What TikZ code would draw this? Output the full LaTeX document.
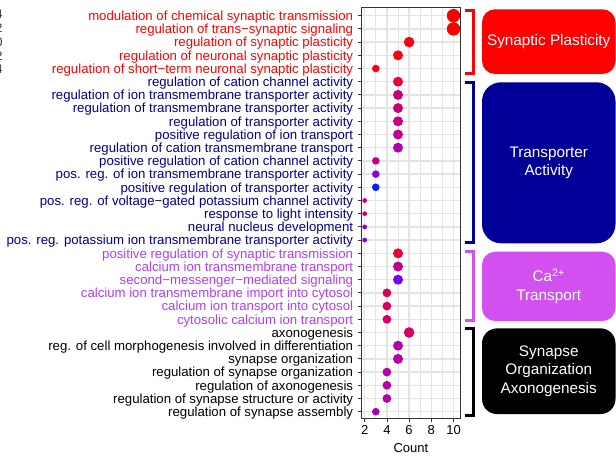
\documentclass[tikz,border=0pt]{standalone}
\usepackage{fontspec}
\setmainfont{Liberation Sans}
\usepackage{tikz}
\usepackage{xcolor}

\definecolor{synred}{RGB}{255,0,0}
\definecolor{trnblue}{RGB}{0,0,139}
\definecolor{capurple}{RGB}{178,60,240}
\definecolor{boxblue}{RGB}{0,0,153}
\definecolor{boxpurple}{RGB}{210,80,240}
\definecolor{axisgrey}{RGB}{51,51,51}
\definecolor{gridgrey}{RGB}{228,228,228}

\begin{document}
\begin{tikzpicture}[x=1pt,y=1pt,yscale=-1,xscale=1,
  lab/.style={anchor=east,inner sep=0pt,text height=9.6pt,text depth=0pt,font=\fontsize{13.2}{15}\selectfont},
  tcklab/.style={inner sep=0pt,text height=9.4pt,text depth=0pt,font=\fontsize{13}{15}\selectfont},
  lgd/.style={anchor=east,inner sep=0pt,text height=9pt,text depth=0pt,text=axisgrey,font=\fontsize{12.5}{14}\selectfont},
  gridmaj/.style={color=gridgrey,line width=1.3},
  gridmin/.style={color=gridgrey,line width=0.8},
  dot/.style={draw opacity=0},
  brk/.style={line width=3,line cap=butt,line join=miter},
  catbox/.style={rounded corners=13pt,text=white,align=center,minimum width=133.5pt,inner sep=0pt,font=\fontsize{15.3}{18.6}\selectfont}]
\useasboundingbox (0,0) rectangle (616,462);

% Text Node (cut legend)
\draw (2.7,14) node [lgd] (lg1) {4};
\draw (2.7,27.7) node [lgd] (lg2) {2};
\draw (2.7,41.7) node [lgd] (lg3) {0};
\draw (2.7,55.7) node [lgd] (lg4) {2};
\draw (2.7,69.3) node [lgd] (lg5) {4};

%Grid Lines
\draw [gridmin] (375.8,7.3) -- (375.8,418) (398,7.3) -- (398,418) (420.2,7.3) -- (420.2,418) (442.4,7.3) -- (442.4,418) ;
\draw [gridmaj] (364.7,7.3) -- (364.7,418) (386.9,7.3) -- (386.9,418) (409.1,7.3) -- (409.1,418) (431.3,7.3) -- (431.3,418) (453.5,7.3) -- (453.5,418) ;
\draw [gridmaj] (361.7,15.7) -- (460,15.7) (361.7,28.9) -- (460,28.9) (361.7,42.1) -- (460,42.1) (361.7,55.3) -- (460,55.3) (361.7,68.5) -- (460,68.5) (361.7,81.7) -- (460,81.7) (361.7,94.9) -- (460,94.9) (361.7,108.1) -- (460,108.1) ;
\draw [gridmaj] (361.7,121.3) -- (460,121.3) (361.7,134.5) -- (460,134.5) (361.7,147.7) -- (460,147.7) (361.7,160.9) -- (460,160.9) (361.7,174.1) -- (460,174.1) (361.7,187.3) -- (460,187.3) (361.7,200.5) -- (460,200.5) (361.7,213.7) -- (460,213.7) ;
\draw [gridmaj] (361.7,226.9) -- (460,226.9) (361.7,240.1) -- (460,240.1) (361.7,253.3) -- (460,253.3) (361.7,266.5) -- (460,266.5) (361.7,279.7) -- (460,279.7) (361.7,292.9) -- (460,292.9) (361.7,306.1) -- (460,306.1) (361.7,319.3) -- (460,319.3) ;
\draw [gridmaj] (361.7,332.5) -- (460,332.5) (361.7,345.7) -- (460,345.7) (361.7,358.9) -- (460,358.9) (361.7,372.1) -- (460,372.1) (361.7,385.3) -- (460,385.3) (361.7,398.5) -- (460,398.5) (361.7,411.7) -- (460,411.7) ;

%Shape: Circle (Synaptic Plasticity)
\draw [dot,fill={rgb, 255:red, 255; green, 0; blue, 0 }] (453.5,15.7) circle (6.7) ;
\draw [dot,fill={rgb, 255:red, 255; green, 0; blue, 0 }] (453.5,28.9) circle (6.7) ;
\draw [dot,fill={rgb, 255:red, 255; green, 0; blue, 16 }] (409.1,42.1) circle (5.3) ;
\draw [dot,fill={rgb, 255:red, 255; green, 0; blue, 16 }] (398,55.3) circle (5) ;
\draw [dot,fill={rgb, 255:red, 255; green, 0; blue, 16 }] (375.8,68.5) circle (3.8) ;
%Shape: Circle (Transporter Activity)
\draw [dot,fill={rgb, 255:red, 240; green, 0; blue, 58 }] (398,81.7) circle (5) ;
\draw [dot,fill={rgb, 255:red, 200; green, 0; blue, 122 }] (398,94.9) circle (5) ;
\draw [dot,fill={rgb, 255:red, 200; green, 0; blue, 122 }] (398,108.1) circle (5) ;
\draw [dot,fill={rgb, 255:red, 200; green, 0; blue, 128 }] (398,121.3) circle (5) ;
\draw [dot,fill={rgb, 255:red, 192; green, 0; blue, 144 }] (398,134.5) circle (5) ;
\draw [dot,fill={rgb, 255:red, 176; green, 0; blue, 176 }] (398,147.7) circle (5) ;
\draw [dot,fill={rgb, 255:red, 200; green, 0; blue, 133 }] (375.8,160.9) circle (3.8) ;
\draw [dot,fill={rgb, 255:red, 144; green, 0; blue, 224 }] (375.8,174.1) circle (3.8) ;
\draw [dot,fill={rgb, 255:red, 0; green, 32; blue, 255 }] (375.8,187.3) circle (3.8) ;
\draw [dot,fill={rgb, 255:red, 208; green, 0; blue, 120 }] (364.7,200.5) circle (2.4) ;
\draw [dot,fill={rgb, 255:red, 208; green, 0; blue, 120 }] (364.7,213.7) circle (2.4) ;
\draw [dot,fill={rgb, 255:red, 138; green, 0; blue, 232 }] (364.7,226.9) circle (2.4) ;
\draw [dot,fill={rgb, 255:red, 138; green, 0; blue, 232 }] (364.7,240.1) circle (2.4) ;
%Shape: Circle (Ca Transport)
\draw [dot,fill={rgb, 255:red, 240; green, 0; blue, 48 }] (398,253.3) circle (5) ;
\draw [dot,fill={rgb, 255:red, 192; green, 0; blue, 144 }] (398,266.5) circle (5) ;
\draw [dot,fill={rgb, 255:red, 120; green, 0; blue, 240 }] (398,279.7) circle (5) ;
\draw [dot,fill={rgb, 255:red, 218; green, 0; blue, 96 }] (386.9,292.9) circle (4.4) ;
\draw [dot,fill={rgb, 255:red, 218; green, 0; blue, 96 }] (386.9,306.1) circle (4.4) ;
\draw [dot,fill={rgb, 255:red, 210; green, 0; blue, 104 }] (386.9,319.3) circle (4.4) ;
%Shape: Circle (Synapse Organization)
\draw [dot,fill={rgb, 255:red, 216; green, 0; blue, 96 }] (409.1,332.5) circle (5.3) ;
\draw [dot,fill={rgb, 255:red, 180; green, 0; blue, 168 }] (398,345.7) circle (5) ;
\draw [dot,fill={rgb, 255:red, 180; green, 0; blue, 168 }] (398,358.9) circle (5) ;
\draw [dot,fill={rgb, 255:red, 184; green, 0; blue, 164 }] (386.9,372.1) circle (4.4) ;
\draw [dot,fill={rgb, 255:red, 184; green, 0; blue, 164 }] (386.9,385.3) circle (4.4) ;
\draw [dot,fill={rgb, 255:red, 184; green, 0; blue, 164 }] (386.9,398.5) circle (4.4) ;
\draw [dot,fill={rgb, 255:red, 168; green, 0; blue, 184 }] (375.8,411.7) circle (3.8) ;

%Shape: Rectangle (panel border)
\draw [color=axisgrey,line width=1] (361.7,7.3) rectangle (460,418) ;
%Straight Lines (ticks)
\draw [color=axisgrey,line width=0.8] (357.7,15.7) -- (361.7,15.7) (357.7,28.9) -- (361.7,28.9) (357.7,42.1) -- (361.7,42.1) (357.7,55.3) -- (361.7,55.3) (357.7,68.5) -- (361.7,68.5) (357.7,81.7) -- (361.7,81.7) (357.7,94.9) -- (361.7,94.9) (357.7,108.1) -- (361.7,108.1) ;
\draw [color=axisgrey,line width=0.8] (357.7,121.3) -- (361.7,121.3) (357.7,134.5) -- (361.7,134.5) (357.7,147.7) -- (361.7,147.7) (357.7,160.9) -- (361.7,160.9) (357.7,174.1) -- (361.7,174.1) (357.7,187.3) -- (361.7,187.3) (357.7,200.5) -- (361.7,200.5) (357.7,213.7) -- (361.7,213.7) ;
\draw [color=axisgrey,line width=0.8] (357.7,226.9) -- (361.7,226.9) (357.7,240.1) -- (361.7,240.1) (357.7,253.3) -- (361.7,253.3) (357.7,266.5) -- (361.7,266.5) (357.7,279.7) -- (361.7,279.7) (357.7,292.9) -- (361.7,292.9) (357.7,306.1) -- (361.7,306.1) (357.7,319.3) -- (361.7,319.3) ;
\draw [color=axisgrey,line width=0.8] (357.7,332.5) -- (361.7,332.5) (357.7,345.7) -- (361.7,345.7) (357.7,358.9) -- (361.7,358.9) (357.7,372.1) -- (361.7,372.1) (357.7,385.3) -- (361.7,385.3) (357.7,398.5) -- (361.7,398.5) (357.7,411.7) -- (361.7,411.7) ;
\draw [color=axisgrey,line width=0.8] (364.7,418) -- (364.7,421.7) (386.9,418) -- (386.9,421.7) (409.1,418) -- (409.1,421.7) (431.3,418) -- (431.3,421.7) (453.5,418) -- (453.5,421.7) ;

% Text Node (x axis)
\draw (364.7,430) node [tcklab] (x2) {2};
\draw (386.9,430) node [tcklab] (x4) {4};
\draw (409.1,430) node [tcklab] (x6) {6};
\draw (431.3,430) node [tcklab] (x8) {8};
\draw (453.5,430) node [tcklab] (x10) {10};
\draw (410.9,448) node [tcklab] (xtitle) {Count};

% Text Node (terms)
\draw (353.3,15.7) node [lab,text=synred] (t1) {modulation of chemical synaptic transmission};
\draw (353.3,28.9) node [lab,text=synred] (t2) {regulation of trans−synaptic signaling};
\draw (353.3,42.1) node [lab,text=synred] (t3) {regulation of synaptic plasticity};
\draw (353.3,55.3) node [lab,text=synred] (t4) {regulation of neuronal synaptic plasticity};
\draw (353.3,68.5) node [lab,text=synred] (t5) {regulation of short−term neuronal synaptic plasticity};
\draw (353.3,81.7) node [lab,text=trnblue] (t6) {regulation of cation channel activity};
\draw (353.3,94.9) node [lab,text=trnblue] (t7) {regulation of ion transmembrane transporter activity};
\draw (353.3,108.1) node [lab,text=trnblue] (t8) {regulation of transmembrane transporter activity};
\draw (353.3,121.3) node [lab,text=trnblue] (t9) {regulation of transporter activity};
\draw (353.3,134.5) node [lab,text=trnblue] (t10) {positive regulation of ion transport};
\draw (353.3,147.7) node [lab,text=trnblue] (t11) {regulation of cation transmembrane transport};
\draw (353.3,160.9) node [lab,text=trnblue] (t12) {positive regulation of cation channel activity};
\draw (353.3,174.1) node [lab,text=trnblue] (t13) {pos. reg. of ion transmembrane transporter activity};
\draw (353.3,187.3) node [lab,text=trnblue] (t14) {positive regulation of transporter activity};
\draw (353.3,200.5) node [lab,text=trnblue] (t15) {pos. reg. of voltage−gated potassium channel activity};
\draw (353.3,213.7) node [lab,text=trnblue] (t16) {response to light intensity};
\draw (353.3,226.9) node [lab,text=trnblue] (t17) {neural nucleus development};
\draw (353.3,240.1) node [lab,text=trnblue] (t18) {pos. reg. potassium ion transmembrane transporter activity};
\draw (353.3,253.3) node [lab,text=capurple] (t19) {positive regulation of synaptic transmission};
\draw (353.3,266.5) node [lab,text=capurple] (t20) {calcium ion transmembrane transport};
\draw (353.3,279.7) node [lab,text=capurple] (t21) {second−messenger−mediated signaling};
\draw (353.3,292.9) node [lab,text=capurple] (t22) {calcium ion transmembrane import into cytosol};
\draw (353.3,306.1) node [lab,text=capurple] (t23) {calcium ion transport into cytosol};
\draw (353.3,319.3) node [lab,text=capurple] (t24) {cytosolic calcium ion transport};
\draw (353.3,332.5) node [lab] (t25) {axonogenesis};
\draw (353.3,345.7) node [lab] (t26) {reg. of cell morphogenesis involved in differentiation};
\draw (353.3,358.9) node [lab] (t27) {synapse organization};
\draw (353.3,372.1) node [lab] (t28) {regulation of synapse organization};
\draw (353.3,385.3) node [lab] (t29) {regulation of axonogenesis};
\draw (353.3,398.5) node [lab] (t30) {regulation of synapse structure or activity};
\draw (353.3,411.7) node [lab] (t31) {regulation of synapse assembly};

%Straight Lines (brackets)
\draw [brk,color=synred] (465,10.5) -- (473.8,10.5) -- (473.8,73.5) -- (465,73.5) ;
\draw [brk,color=boxblue] (465,82.3) -- (473.8,82.3) -- (473.8,243) -- (465,243) ;
\draw [brk,color=boxpurple] (465,251.2) -- (473.8,251.2) -- (473.8,321) -- (465,321) ;
\draw [brk,color=black] (465,328.5) -- (473.8,328.5) -- (473.8,415) -- (465,415) ;

%Shape: Rounded Rect (categories)
\node [catbox,fill=synred,minimum height=64.7pt] (boxsp) at (548.75,41.65) {Synaptic Plasticity};
\node [catbox,fill=boxblue,minimum height=161pt,rounded corners=19pt] (boxta) at (548.75,162.8) {Transporter\\Activity};
\node [catbox,fill=boxpurple,minimum height=69.3pt] (boxca) at (548.75,286.4) {Ca\textsuperscript{2+}\\Transport};
\node [catbox,fill=black,minimum height=85.7pt,rounded corners=15pt] (boxso) at (548.75,371.2) {Synapse\\Organization\\Axonogenesis};

\end{tikzpicture}
\end{document}
